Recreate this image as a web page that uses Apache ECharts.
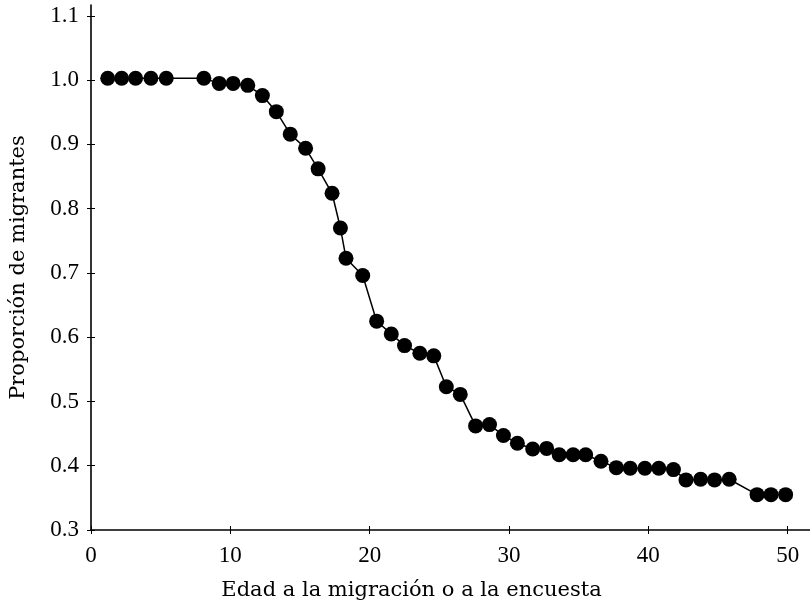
<!DOCTYPE html>
<html>
<head>
<meta charset="utf-8">
<script src="https://cdn.jsdelivr.net/npm/echarts@6/dist/echarts.min.js"></script>
<style>
html,body{margin:0;padding:0;background:#fff;}
#chart{width:810px;height:601px;}
</style>
</head>
<body>
<div id="chart"></div>
<script>
const ages = [1.2, 2.2, 3.2, 4.3, 5.4, 8.1, 9.2, 10.2, 11.25, 12.3, 13.3, 14.3, 15.4, 16.3, 17.3, 17.9, 18.3, 19.5, 20.5, 21.55, 22.5, 23.6, 24.6, 25.5, 26.5, 27.6, 28.6, 29.6, 30.6, 31.7, 32.7, 33.6, 34.6, 35.5, 36.6, 37.7, 38.7, 39.75, 40.75, 41.8, 42.7, 43.75, 44.75, 45.8, 47.8, 48.8, 49.85];
const proportions = [1.003, 1.003, 1.003, 1.003, 1.003, 1.003, 0.995, 0.995, 0.992, 0.976, 0.951, 0.916, 0.894, 0.862, 0.824, 0.770, 0.723, 0.696, 0.625, 0.605, 0.587, 0.575, 0.571, 0.523, 0.511, 0.462, 0.464, 0.447, 0.435, 0.426, 0.427, 0.417, 0.417, 0.417, 0.407, 0.397, 0.396, 0.396, 0.396, 0.394, 0.378, 0.379, 0.378, 0.379, 0.355, 0.355, 0.355];
const xTicks = [0, 10, 20, 30, 40, 50];
const yTicks = [0.3, 0.4, 0.5, 0.6, 0.7, 0.8, 0.9, 1.0, 1.1];
const xTitle = 'Edad a la migración o a la encuesta';
const yTitle = 'Proporción de migrantes';

const labelFont = 'Liberation Serif';
const titleFont = 'DejaVu Serif';
const points = ages.map((a, i) => [a, proportions[i]]);

function xAxisBase(inside) {
  return {
    type: 'value', min: 0, max: 51.6, gridIndex: 0, position: 'bottom',
    splitLine: { show: false },
    axisLine: { show: !inside, lineStyle: { color: '#000', width: 1.6 } },
    axisTick: { show: true, inside: inside, length: 4, customValues: xTicks, lineStyle: { color: '#000', width: 1 } },
    axisLabel: inside ? { show: false } : {
      show: true, customValues: xTicks, margin: 14,
      fontFamily: labelFont, fontSize: 23, color: '#000'
    },
    name: inside ? '' : xTitle,
    nameLocation: 'middle', nameGap: 50,
    nameTextStyle: { fontFamily: titleFont, fontSize: 21, color: '#000', padding: [0, 78, 0, 0] }
  };
}
function yAxisBase(inside) {
  return {
    type: 'value', min: 0.3, max: 1.117, gridIndex: 0, position: 'left',
    splitLine: { show: false },
    axisLine: { show: !inside, lineStyle: { color: '#000', width: 1.6 } },
    axisTick: { show: true, inside: inside, length: 4, customValues: yTicks, lineStyle: { color: '#000', width: 1 } },
    axisLabel: inside ? { show: false } : {
      show: true, customValues: yTicks, margin: 12,
      fontFamily: labelFont, fontSize: 23, color: '#000',
      formatter: v => v.toFixed(1)
    },
    name: inside ? '' : yTitle,
    nameLocation: 'middle', nameGap: 62,
    nameTextStyle: { fontFamily: titleFont, fontSize: 21, color: '#000' }
  };
}

const chart = echarts.init(document.getElementById('chart'), null, { renderer: 'canvas' });
chart.setOption({
  backgroundColor: '#fff',
  animation: false,
  grid: { left: 91, right: 0, top: 5, bottom: 71, containLabel: false, outerBoundsMode: 'none' },
  xAxis: [xAxisBase(false), xAxisBase(true)],
  yAxis: [yAxisBase(false), yAxisBase(true)],
  series: [{
    type: 'line',
    xAxisIndex: 0, yAxisIndex: 0,
    data: points,
    symbol: 'circle',
    symbolSize: 15,
    itemStyle: { color: '#000' },
    lineStyle: { color: '#000', width: 1.5 }
  }]
});
</script>
</body>
</html>
